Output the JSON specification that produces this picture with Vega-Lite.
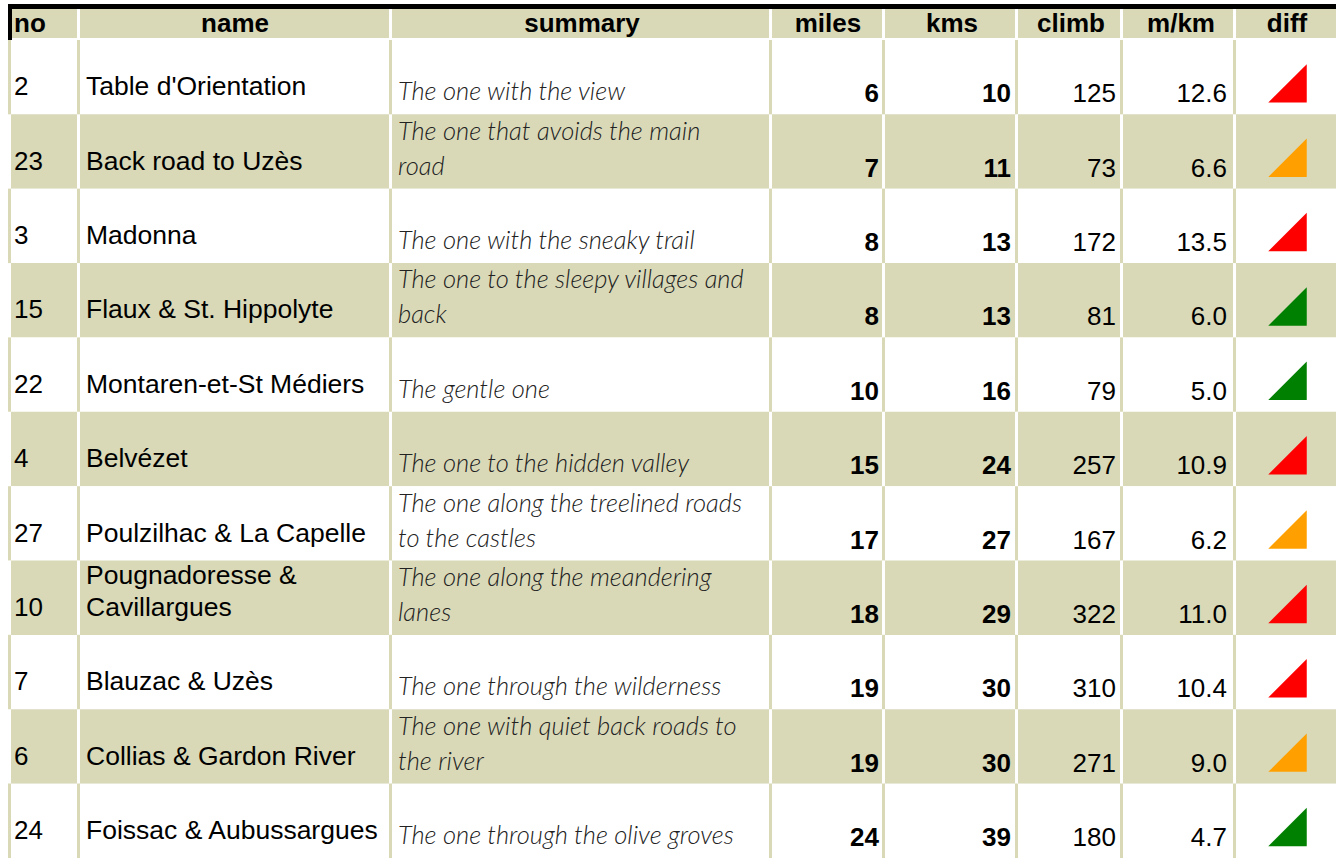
{
 "$schema": "https://vega.github.io/schema/vega-lite/v6.json",
 "background": "white",
 "padding": {"left": 8, "top": 4, "right": 0, "bottom": 0},
 "spacing": 0,
 "config": {"view": {"stroke": null}, "concat": {"spacing": 0}},
 "data": {"values": [
  {"row":1,"no":2,"nameA":"","nameB":"Table d'Orientation","sumA":"","sumB":"The one with the view","miles":6,"kms":10,"climb":125,"mkm":12.6,"diff":"hard"},
  {"row":2,"no":23,"nameA":"","nameB":"Back road to Uzès","sumA":"The one that avoids the main","sumB":"road","miles":7,"kms":11,"climb":73,"mkm":6.6,"diff":"medium"},
  {"row":3,"no":3,"nameA":"","nameB":"Madonna","sumA":"","sumB":"The one with the sneaky trail","miles":8,"kms":13,"climb":172,"mkm":13.5,"diff":"hard"},
  {"row":4,"no":15,"nameA":"","nameB":"Flaux & St. Hippolyte","sumA":"The one to the sleepy villages and","sumB":"back","miles":8,"kms":13,"climb":81,"mkm":6.0,"diff":"easy"},
  {"row":5,"no":22,"nameA":"","nameB":"Montaren-et-St Médiers","sumA":"","sumB":"The gentle one","miles":10,"kms":16,"climb":79,"mkm":5.0,"diff":"easy"},
  {"row":6,"no":4,"nameA":"","nameB":"Belvézet","sumA":"","sumB":"The one to the hidden valley","miles":15,"kms":24,"climb":257,"mkm":10.9,"diff":"hard"},
  {"row":7,"no":27,"nameA":"","nameB":"Poulzilhac & La Capelle","sumA":"The one along the treelined roads","sumB":"to the castles","miles":17,"kms":27,"climb":167,"mkm":6.2,"diff":"medium"},
  {"row":8,"no":10,"nameA":"Pougnadoresse &","nameB":"Cavillargues","sumA":"The one along the meandering","sumB":"lanes","miles":18,"kms":29,"climb":322,"mkm":11.0,"diff":"hard"},
  {"row":9,"no":7,"nameA":"","nameB":"Blauzac & Uzès","sumA":"","sumB":"The one through the wilderness","miles":19,"kms":30,"climb":310,"mkm":10.4,"diff":"hard"},
  {"row":10,"no":6,"nameA":"","nameB":"Collias & Gardon River","sumA":"The one with quiet back roads to","sumB":"the river","miles":19,"kms":30,"climb":271,"mkm":9.0,"diff":"medium"},
  {"row":11,"no":24,"nameA":"","nameB":"Foissac & Aubussargues","sumA":"","sumB":"The one through the olive groves","miles":24,"kms":39,"climb":180,"mkm":4.7,"diff":"easy"}
 ]},
 "vconcat": [
  {"spacing": 0, "bounds": "flush", "hconcat": [
   {"width": 69, "height": 36, "data": {"values": [{"h": "no"}]}, "layer": [
    {"mark": {"type": "rect", "fill": "#000000"}, "encoding": {"x": {"datum": 0, "type": "quantitative", "scale": {"domain": [0, 69], "nice": false, "zero": false}, "axis": null}, "x2": {"datum": 69}, "y": {"datum": 0, "type": "quantitative", "scale": {"domain": [0, 36], "nice": false, "zero": false, "reverse": true}, "axis": null}, "y2": {"datum": 5}}},
    {"mark": {"type": "rect", "fill": "#d9d9b8"}, "encoding": {"x": {"datum": 3, "type": "quantitative", "scale": {"domain": [0, 69], "nice": false, "zero": false}, "axis": null}, "x2": {"datum": 69}, "y": {"datum": 5, "type": "quantitative", "scale": {"domain": [0, 36], "nice": false, "zero": false, "reverse": true}, "axis": null}, "y2": {"datum": 34}}},
    {"mark": {"type": "rect", "fill": "#000000"}, "encoding": {"x": {"datum": 0, "type": "quantitative", "scale": {"domain": [0, 69], "nice": false, "zero": false}, "axis": null}, "x2": {"datum": 4}, "y": {"datum": 0, "type": "quantitative", "scale": {"domain": [0, 36], "nice": false, "zero": false, "reverse": true}, "axis": null}, "y2": {"datum": 36}}},
    {"mark": {"type": "text", "font": "Liberation Sans", "fontSize": 26, "fontWeight": "bold", "align": "left", "baseline": "alphabetic", "color": "#000000"}, "encoding": {"x": {"datum": 6, "type": "quantitative", "scale": {"domain": [0, 69], "nice": false, "zero": false}, "axis": null}, "y": {"datum": 28, "type": "quantitative", "scale": {"domain": [0, 36], "nice": false, "zero": false, "reverse": true}, "axis": null}, "text": {"field": "h"}}}
   ]},
   {"width": 312, "height": 36, "data": {"values": [{"h": "name"}]}, "layer": [
    {"mark": {"type": "rect", "fill": "#000000"}, "encoding": {"x": {"datum": 0, "type": "quantitative", "scale": {"domain": [0, 312], "nice": false, "zero": false}, "axis": null}, "x2": {"datum": 312}, "y": {"datum": 0, "type": "quantitative", "scale": {"domain": [0, 36], "nice": false, "zero": false, "reverse": true}, "axis": null}, "y2": {"datum": 5}}},
    {"mark": {"type": "rect", "fill": "#d9d9b8"}, "encoding": {"x": {"datum": 3, "type": "quantitative", "scale": {"domain": [0, 312], "nice": false, "zero": false}, "axis": null}, "x2": {"datum": 312}, "y": {"datum": 5, "type": "quantitative", "scale": {"domain": [0, 36], "nice": false, "zero": false, "reverse": true}, "axis": null}, "y2": {"datum": 34}}},
    {"mark": {"type": "text", "font": "Liberation Sans", "fontSize": 26, "fontWeight": "bold", "align": "center", "baseline": "alphabetic", "color": "#000000"}, "encoding": {"x": {"datum": 158, "type": "quantitative", "scale": {"domain": [0, 312], "nice": false, "zero": false}, "axis": null}, "y": {"datum": 28, "type": "quantitative", "scale": {"domain": [0, 36], "nice": false, "zero": false, "reverse": true}, "axis": null}, "text": {"field": "h"}}}
   ]},
   {"width": 380, "height": 36, "data": {"values": [{"h": "summary"}]}, "layer": [
    {"mark": {"type": "rect", "fill": "#000000"}, "encoding": {"x": {"datum": 0, "type": "quantitative", "scale": {"domain": [0, 380], "nice": false, "zero": false}, "axis": null}, "x2": {"datum": 380}, "y": {"datum": 0, "type": "quantitative", "scale": {"domain": [0, 36], "nice": false, "zero": false, "reverse": true}, "axis": null}, "y2": {"datum": 5}}},
    {"mark": {"type": "rect", "fill": "#d9d9b8"}, "encoding": {"x": {"datum": 3, "type": "quantitative", "scale": {"domain": [0, 380], "nice": false, "zero": false}, "axis": null}, "x2": {"datum": 380}, "y": {"datum": 5, "type": "quantitative", "scale": {"domain": [0, 36], "nice": false, "zero": false, "reverse": true}, "axis": null}, "y2": {"datum": 34}}},
    {"mark": {"type": "text", "font": "Liberation Sans", "fontSize": 26, "fontWeight": "bold", "align": "center", "baseline": "alphabetic", "color": "#000000"}, "encoding": {"x": {"datum": 193, "type": "quantitative", "scale": {"domain": [0, 380], "nice": false, "zero": false}, "axis": null}, "y": {"datum": 28, "type": "quantitative", "scale": {"domain": [0, 36], "nice": false, "zero": false, "reverse": true}, "axis": null}, "text": {"field": "h"}}}
   ]},
   {"width": 113, "height": 36, "data": {"values": [{"h": "miles"}]}, "layer": [
    {"mark": {"type": "rect", "fill": "#000000"}, "encoding": {"x": {"datum": 0, "type": "quantitative", "scale": {"domain": [0, 113], "nice": false, "zero": false}, "axis": null}, "x2": {"datum": 113}, "y": {"datum": 0, "type": "quantitative", "scale": {"domain": [0, 36], "nice": false, "zero": false, "reverse": true}, "axis": null}, "y2": {"datum": 5}}},
    {"mark": {"type": "rect", "fill": "#d9d9b8"}, "encoding": {"x": {"datum": 3, "type": "quantitative", "scale": {"domain": [0, 113], "nice": false, "zero": false}, "axis": null}, "x2": {"datum": 113}, "y": {"datum": 5, "type": "quantitative", "scale": {"domain": [0, 36], "nice": false, "zero": false, "reverse": true}, "axis": null}, "y2": {"datum": 34}}},
    {"mark": {"type": "text", "font": "Liberation Sans", "fontSize": 26, "fontWeight": "bold", "align": "center", "baseline": "alphabetic", "color": "#000000"}, "encoding": {"x": {"datum": 59, "type": "quantitative", "scale": {"domain": [0, 113], "nice": false, "zero": false}, "axis": null}, "y": {"datum": 28, "type": "quantitative", "scale": {"domain": [0, 36], "nice": false, "zero": false, "reverse": true}, "axis": null}, "text": {"field": "h"}}}
   ]},
   {"width": 133, "height": 36, "data": {"values": [{"h": "kms"}]}, "layer": [
    {"mark": {"type": "rect", "fill": "#000000"}, "encoding": {"x": {"datum": 0, "type": "quantitative", "scale": {"domain": [0, 133], "nice": false, "zero": false}, "axis": null}, "x2": {"datum": 133}, "y": {"datum": 0, "type": "quantitative", "scale": {"domain": [0, 36], "nice": false, "zero": false, "reverse": true}, "axis": null}, "y2": {"datum": 5}}},
    {"mark": {"type": "rect", "fill": "#d9d9b8"}, "encoding": {"x": {"datum": 3, "type": "quantitative", "scale": {"domain": [0, 133], "nice": false, "zero": false}, "axis": null}, "x2": {"datum": 133}, "y": {"datum": 5, "type": "quantitative", "scale": {"domain": [0, 36], "nice": false, "zero": false, "reverse": true}, "axis": null}, "y2": {"datum": 34}}},
    {"mark": {"type": "text", "font": "Liberation Sans", "fontSize": 26, "fontWeight": "bold", "align": "center", "baseline": "alphabetic", "color": "#000000"}, "encoding": {"x": {"datum": 70, "type": "quantitative", "scale": {"domain": [0, 133], "nice": false, "zero": false}, "axis": null}, "y": {"datum": 28, "type": "quantitative", "scale": {"domain": [0, 36], "nice": false, "zero": false, "reverse": true}, "axis": null}, "text": {"field": "h"}}}
   ]},
   {"width": 105, "height": 36, "data": {"values": [{"h": "climb"}]}, "layer": [
    {"mark": {"type": "rect", "fill": "#000000"}, "encoding": {"x": {"datum": 0, "type": "quantitative", "scale": {"domain": [0, 105], "nice": false, "zero": false}, "axis": null}, "x2": {"datum": 105}, "y": {"datum": 0, "type": "quantitative", "scale": {"domain": [0, 36], "nice": false, "zero": false, "reverse": true}, "axis": null}, "y2": {"datum": 5}}},
    {"mark": {"type": "rect", "fill": "#d9d9b8"}, "encoding": {"x": {"datum": 3, "type": "quantitative", "scale": {"domain": [0, 105], "nice": false, "zero": false}, "axis": null}, "x2": {"datum": 105}, "y": {"datum": 5, "type": "quantitative", "scale": {"domain": [0, 36], "nice": false, "zero": false, "reverse": true}, "axis": null}, "y2": {"datum": 34}}},
    {"mark": {"type": "text", "font": "Liberation Sans", "fontSize": 26, "fontWeight": "bold", "align": "center", "baseline": "alphabetic", "color": "#000000"}, "encoding": {"x": {"datum": 56, "type": "quantitative", "scale": {"domain": [0, 105], "nice": false, "zero": false}, "axis": null}, "y": {"datum": 28, "type": "quantitative", "scale": {"domain": [0, 36], "nice": false, "zero": false, "reverse": true}, "axis": null}, "text": {"field": "h"}}}
   ]},
   {"width": 113, "height": 36, "data": {"values": [{"h": "m/km"}]}, "layer": [
    {"mark": {"type": "rect", "fill": "#000000"}, "encoding": {"x": {"datum": 0, "type": "quantitative", "scale": {"domain": [0, 113], "nice": false, "zero": false}, "axis": null}, "x2": {"datum": 113}, "y": {"datum": 0, "type": "quantitative", "scale": {"domain": [0, 36], "nice": false, "zero": false, "reverse": true}, "axis": null}, "y2": {"datum": 5}}},
    {"mark": {"type": "rect", "fill": "#d9d9b8"}, "encoding": {"x": {"datum": 3, "type": "quantitative", "scale": {"domain": [0, 113], "nice": false, "zero": false}, "axis": null}, "x2": {"datum": 113}, "y": {"datum": 5, "type": "quantitative", "scale": {"domain": [0, 36], "nice": false, "zero": false, "reverse": true}, "axis": null}, "y2": {"datum": 34}}},
    {"mark": {"type": "text", "font": "Liberation Sans", "fontSize": 26, "fontWeight": "bold", "align": "center", "baseline": "alphabetic", "color": "#000000"}, "encoding": {"x": {"datum": 61, "type": "quantitative", "scale": {"domain": [0, 113], "nice": false, "zero": false}, "axis": null}, "y": {"datum": 28, "type": "quantitative", "scale": {"domain": [0, 36], "nice": false, "zero": false, "reverse": true}, "axis": null}, "text": {"field": "h"}}}
   ]},
   {"width": 103, "height": 36, "data": {"values": [{"h": "diff"}]}, "layer": [
    {"mark": {"type": "rect", "fill": "#000000"}, "encoding": {"x": {"datum": 0, "type": "quantitative", "scale": {"domain": [0, 103], "nice": false, "zero": false}, "axis": null}, "x2": {"datum": 103}, "y": {"datum": 0, "type": "quantitative", "scale": {"domain": [0, 36], "nice": false, "zero": false, "reverse": true}, "axis": null}, "y2": {"datum": 5}}},
    {"mark": {"type": "rect", "fill": "#d9d9b8"}, "encoding": {"x": {"datum": 3, "type": "quantitative", "scale": {"domain": [0, 103], "nice": false, "zero": false}, "axis": null}, "x2": {"datum": 103}, "y": {"datum": 5, "type": "quantitative", "scale": {"domain": [0, 36], "nice": false, "zero": false, "reverse": true}, "axis": null}, "y2": {"datum": 34}}},
    {"mark": {"type": "text", "font": "Liberation Sans", "fontSize": 26, "fontWeight": "bold", "align": "center", "baseline": "alphabetic", "color": "#000000"}, "encoding": {"x": {"datum": 54, "type": "quantitative", "scale": {"domain": [0, 103], "nice": false, "zero": false}, "axis": null}, "y": {"datum": 28, "type": "quantitative", "scale": {"domain": [0, 36], "nice": false, "zero": false, "reverse": true}, "axis": null}, "text": {"field": "h"}}}
   ]}
  ]},
  {"spacing": 0, "bounds": "flush", "hconcat": [
   {"width": 69, "height": 818, "layer": [
    {"mark": {"type": "rect"}, "encoding": {"x": {"datum": 0, "type": "quantitative", "scale": {"domain": [0, 69], "nice": false, "zero": false}, "axis": null}, "x2": {"datum": 69}, "y": {"field": "row", "type": "ordinal", "axis": null, "scale": {"type": "band", "paddingInner": 0, "paddingOuter": 0}}, "fill": {"condition": {"test": "datum.row % 2 == 0", "value": "#d9d9b8"}, "value": "#ffffff"}}},
    {"mark": {"type": "rect"}, "encoding": {"x": {"datum": 0, "type": "quantitative", "scale": {"domain": [0, 69], "nice": false, "zero": false}, "axis": null}, "x2": {"datum": 3}, "y": {"field": "row", "type": "ordinal", "axis": null, "scale": {"type": "band", "paddingInner": 0, "paddingOuter": 0}}, "fill": {"condition": {"test": "datum.row % 2 == 0", "value": "#ffffff"}, "value": "#d9d9b8"}}},
    {"mark": {"type": "text", "font": "Liberation Sans", "fontSize": 26, "align": "left", "baseline": "alphabetic", "color": "#000000", "yOffset": -19}, "encoding": {"x": {"datum": 6, "type": "quantitative", "scale": {"domain": [0, 69], "nice": false, "zero": false}, "axis": null}, "y": {"field": "row", "type": "ordinal", "axis": null, "bandPosition": 1, "scale": {"type": "band", "paddingInner": 0, "paddingOuter": 0}}, "text": {"field": "no", "type": "quantitative"}}}
   ]},
   {"width": 312, "height": 818, "layer": [
    {"mark": {"type": "rect"}, "encoding": {"x": {"datum": 0, "type": "quantitative", "scale": {"domain": [0, 312], "nice": false, "zero": false}, "axis": null}, "x2": {"datum": 312}, "y": {"field": "row", "type": "ordinal", "axis": null, "scale": {"type": "band", "paddingInner": 0, "paddingOuter": 0}}, "fill": {"condition": {"test": "datum.row % 2 == 0", "value": "#d9d9b8"}, "value": "#ffffff"}}},
    {"mark": {"type": "rect"}, "encoding": {"x": {"datum": 0, "type": "quantitative", "scale": {"domain": [0, 312], "nice": false, "zero": false}, "axis": null}, "x2": {"datum": 3}, "y": {"field": "row", "type": "ordinal", "axis": null, "scale": {"type": "band", "paddingInner": 0, "paddingOuter": 0}}, "fill": {"condition": {"test": "datum.row % 2 == 0", "value": "#ffffff"}, "value": "#d9d9b8"}}},
    {"mark": {"type": "text", "font": "Liberation Sans", "fontSize": 26.5, "align": "left", "baseline": "alphabetic", "color": "#000000", "yOffset": -19}, "encoding": {"x": {"datum": 9, "type": "quantitative", "scale": {"domain": [0, 312], "nice": false, "zero": false}, "axis": null}, "y": {"field": "row", "type": "ordinal", "axis": null, "bandPosition": 1, "scale": {"type": "band", "paddingInner": 0, "paddingOuter": 0}}, "text": {"field": "nameB", "type": "nominal"}}},
    {"mark": {"type": "text", "font": "Liberation Sans", "fontSize": 26.5, "align": "left", "baseline": "alphabetic", "color": "#000000", "yOffset": -51}, "encoding": {"x": {"datum": 9, "type": "quantitative", "scale": {"domain": [0, 312], "nice": false, "zero": false}, "axis": null}, "y": {"field": "row", "type": "ordinal", "axis": null, "bandPosition": 1, "scale": {"type": "band", "paddingInner": 0, "paddingOuter": 0}}, "text": {"field": "nameA", "type": "nominal"}}}
   ]},
   {"width": 380, "height": 818, "layer": [
    {"mark": {"type": "rect"}, "encoding": {"x": {"datum": 0, "type": "quantitative", "scale": {"domain": [0, 380], "nice": false, "zero": false}, "axis": null}, "x2": {"datum": 380}, "y": {"field": "row", "type": "ordinal", "axis": null, "scale": {"type": "band", "paddingInner": 0, "paddingOuter": 0}}, "fill": {"condition": {"test": "datum.row % 2 == 0", "value": "#d9d9b8"}, "value": "#ffffff"}}},
    {"mark": {"type": "rect"}, "encoding": {"x": {"datum": 0, "type": "quantitative", "scale": {"domain": [0, 380], "nice": false, "zero": false}, "axis": null}, "x2": {"datum": 3}, "y": {"field": "row", "type": "ordinal", "axis": null, "scale": {"type": "band", "paddingInner": 0, "paddingOuter": 0}}, "fill": {"condition": {"test": "datum.row % 2 == 0", "value": "#ffffff"}, "value": "#d9d9b8"}}},
    {"mark": {"type": "text", "font": "Lato", "fontSize": 25.5, "fontStyle": "italic", "fontWeight": 300, "align": "left", "baseline": "alphabetic", "color": "#222222", "yOffset": -14}, "encoding": {"x": {"datum": 9, "type": "quantitative", "scale": {"domain": [0, 380], "nice": false, "zero": false}, "axis": null}, "y": {"field": "row", "type": "ordinal", "axis": null, "bandPosition": 1, "scale": {"type": "band", "paddingInner": 0, "paddingOuter": 0}}, "text": {"field": "sumB", "type": "nominal"}}},
    {"mark": {"type": "text", "font": "Lato", "fontSize": 25.5, "fontStyle": "italic", "fontWeight": 300, "align": "left", "baseline": "alphabetic", "color": "#222222", "yOffset": -49}, "encoding": {"x": {"datum": 9, "type": "quantitative", "scale": {"domain": [0, 380], "nice": false, "zero": false}, "axis": null}, "y": {"field": "row", "type": "ordinal", "axis": null, "bandPosition": 1, "scale": {"type": "band", "paddingInner": 0, "paddingOuter": 0}}, "text": {"field": "sumA", "type": "nominal"}}}
   ]},
   {"width": 113, "height": 818, "layer": [
    {"mark": {"type": "rect"}, "encoding": {"x": {"datum": 0, "type": "quantitative", "scale": {"domain": [0, 113], "nice": false, "zero": false}, "axis": null}, "x2": {"datum": 113}, "y": {"field": "row", "type": "ordinal", "axis": null, "scale": {"type": "band", "paddingInner": 0, "paddingOuter": 0}}, "fill": {"condition": {"test": "datum.row % 2 == 0", "value": "#d9d9b8"}, "value": "#ffffff"}}},
    {"mark": {"type": "rect"}, "encoding": {"x": {"datum": 0, "type": "quantitative", "scale": {"domain": [0, 113], "nice": false, "zero": false}, "axis": null}, "x2": {"datum": 3}, "y": {"field": "row", "type": "ordinal", "axis": null, "scale": {"type": "band", "paddingInner": 0, "paddingOuter": 0}}, "fill": {"condition": {"test": "datum.row % 2 == 0", "value": "#ffffff"}, "value": "#d9d9b8"}}},
    {"mark": {"type": "text", "font": "Liberation Sans", "fontSize": 26, "fontWeight": "bold", "align": "right", "baseline": "alphabetic", "color": "#000000", "yOffset": -12}, "encoding": {"x": {"datum": 110, "type": "quantitative", "scale": {"domain": [0, 113], "nice": false, "zero": false}, "axis": null}, "y": {"field": "row", "type": "ordinal", "axis": null, "bandPosition": 1, "scale": {"type": "band", "paddingInner": 0, "paddingOuter": 0}}, "text": {"field": "miles", "type": "quantitative"}}}
   ]},
   {"width": 133, "height": 818, "layer": [
    {"mark": {"type": "rect"}, "encoding": {"x": {"datum": 0, "type": "quantitative", "scale": {"domain": [0, 133], "nice": false, "zero": false}, "axis": null}, "x2": {"datum": 133}, "y": {"field": "row", "type": "ordinal", "axis": null, "scale": {"type": "band", "paddingInner": 0, "paddingOuter": 0}}, "fill": {"condition": {"test": "datum.row % 2 == 0", "value": "#d9d9b8"}, "value": "#ffffff"}}},
    {"mark": {"type": "rect"}, "encoding": {"x": {"datum": 0, "type": "quantitative", "scale": {"domain": [0, 133], "nice": false, "zero": false}, "axis": null}, "x2": {"datum": 3}, "y": {"field": "row", "type": "ordinal", "axis": null, "scale": {"type": "band", "paddingInner": 0, "paddingOuter": 0}}, "fill": {"condition": {"test": "datum.row % 2 == 0", "value": "#ffffff"}, "value": "#d9d9b8"}}},
    {"mark": {"type": "text", "font": "Liberation Sans", "fontSize": 26, "fontWeight": "bold", "align": "right", "baseline": "alphabetic", "color": "#000000", "yOffset": -12}, "encoding": {"x": {"datum": 129, "type": "quantitative", "scale": {"domain": [0, 133], "nice": false, "zero": false}, "axis": null}, "y": {"field": "row", "type": "ordinal", "axis": null, "bandPosition": 1, "scale": {"type": "band", "paddingInner": 0, "paddingOuter": 0}}, "text": {"field": "kms", "type": "quantitative"}}}
   ]},
   {"width": 105, "height": 818, "layer": [
    {"mark": {"type": "rect"}, "encoding": {"x": {"datum": 0, "type": "quantitative", "scale": {"domain": [0, 105], "nice": false, "zero": false}, "axis": null}, "x2": {"datum": 105}, "y": {"field": "row", "type": "ordinal", "axis": null, "scale": {"type": "band", "paddingInner": 0, "paddingOuter": 0}}, "fill": {"condition": {"test": "datum.row % 2 == 0", "value": "#d9d9b8"}, "value": "#ffffff"}}},
    {"mark": {"type": "rect"}, "encoding": {"x": {"datum": 0, "type": "quantitative", "scale": {"domain": [0, 105], "nice": false, "zero": false}, "axis": null}, "x2": {"datum": 3}, "y": {"field": "row", "type": "ordinal", "axis": null, "scale": {"type": "band", "paddingInner": 0, "paddingOuter": 0}}, "fill": {"condition": {"test": "datum.row % 2 == 0", "value": "#ffffff"}, "value": "#d9d9b8"}}},
    {"mark": {"type": "text", "font": "Liberation Sans", "fontSize": 26, "align": "right", "baseline": "alphabetic", "color": "#000000", "yOffset": -12}, "encoding": {"x": {"datum": 101, "type": "quantitative", "scale": {"domain": [0, 105], "nice": false, "zero": false}, "axis": null}, "y": {"field": "row", "type": "ordinal", "axis": null, "bandPosition": 1, "scale": {"type": "band", "paddingInner": 0, "paddingOuter": 0}}, "text": {"field": "climb", "type": "quantitative"}}}
   ]},
   {"width": 113, "height": 818, "layer": [
    {"mark": {"type": "rect"}, "encoding": {"x": {"datum": 0, "type": "quantitative", "scale": {"domain": [0, 113], "nice": false, "zero": false}, "axis": null}, "x2": {"datum": 113}, "y": {"field": "row", "type": "ordinal", "axis": null, "scale": {"type": "band", "paddingInner": 0, "paddingOuter": 0}}, "fill": {"condition": {"test": "datum.row % 2 == 0", "value": "#d9d9b8"}, "value": "#ffffff"}}},
    {"mark": {"type": "rect"}, "encoding": {"x": {"datum": 0, "type": "quantitative", "scale": {"domain": [0, 113], "nice": false, "zero": false}, "axis": null}, "x2": {"datum": 3}, "y": {"field": "row", "type": "ordinal", "axis": null, "scale": {"type": "band", "paddingInner": 0, "paddingOuter": 0}}, "fill": {"condition": {"test": "datum.row % 2 == 0", "value": "#ffffff"}, "value": "#d9d9b8"}}},
    {"mark": {"type": "text", "font": "Liberation Sans", "fontSize": 26, "align": "right", "baseline": "alphabetic", "color": "#000000", "yOffset": -12}, "encoding": {"x": {"datum": 107, "type": "quantitative", "scale": {"domain": [0, 113], "nice": false, "zero": false}, "axis": null}, "y": {"field": "row", "type": "ordinal", "axis": null, "bandPosition": 1, "scale": {"type": "band", "paddingInner": 0, "paddingOuter": 0}}, "text": {"field": "mkm", "type": "quantitative", "format": ".1f"}}}
   ]},
   {"width": 103, "height": 818, "layer": [
    {"mark": {"type": "rect"}, "encoding": {"x": {"datum": 0, "type": "quantitative", "scale": {"domain": [0, 103], "nice": false, "zero": false}, "axis": null}, "x2": {"datum": 103}, "y": {"field": "row", "type": "ordinal", "axis": null, "scale": {"type": "band", "paddingInner": 0, "paddingOuter": 0}}, "fill": {"condition": {"test": "datum.row % 2 == 0", "value": "#d9d9b8"}, "value": "#ffffff"}}},
    {"mark": {"type": "rect"}, "encoding": {"x": {"datum": 0, "type": "quantitative", "scale": {"domain": [0, 103], "nice": false, "zero": false}, "axis": null}, "x2": {"datum": 3}, "y": {"field": "row", "type": "ordinal", "axis": null, "scale": {"type": "band", "paddingInner": 0, "paddingOuter": 0}}, "fill": {"condition": {"test": "datum.row % 2 == 0", "value": "#ffffff"}, "value": "#d9d9b8"}}},
    {"mark": {"type": "point", "shape": "M 1 1 L 1 -1 L -1 1 Z", "filled": true, "size": 1480, "opacity": 1, "strokeWidth": 0, "yOffset": -31}, "encoding": {"x": {"datum": 54.5, "type": "quantitative", "scale": {"domain": [0, 103], "nice": false, "zero": false}, "axis": null}, "y": {"field": "row", "type": "ordinal", "axis": null, "bandPosition": 1, "scale": {"type": "band", "paddingInner": 0, "paddingOuter": 0}}, "color": {"field": "diff", "type": "nominal", "legend": null, "scale": {"domain": ["hard", "medium", "easy"], "range": ["#ff0000", "#ffa000", "#008000"]}}}}
   ]}
  ]}
 ]
}
